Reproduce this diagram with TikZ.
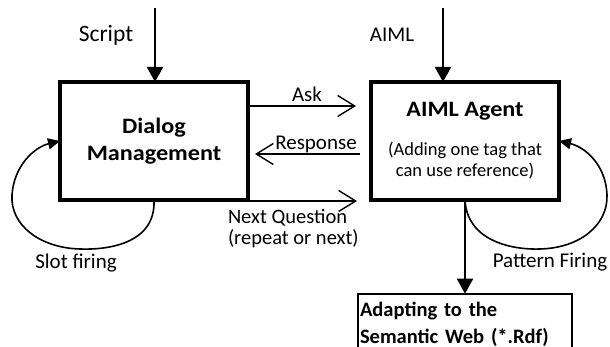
\documentclass[tikz,border=0pt]{standalone}
\usepackage{fontspec}
\setmainfont{Carlito}
\newfontfamily\widefont{Carlito}[FakeStretch=1.1]
\usetikzlibrary{arrows.meta}
\begin{document}
\begin{tikzpicture}[x=1pt,y=-1pt,inner sep=0pt,outer sep=0pt,
bigblock/.style={draw,rectangle,line width=4pt,minimum width=188pt,minimum height=118pt,align=center},
feed/.style={line width=2pt,-{Triangle[length=15pt,width=16pt]}},
msg/.style={line width=1.4pt,-{Straight Barb[length=17pt,width=21pt,line width=1.4pt]}},
loopy/.style={line width=1.6pt,-{Triangle[length=12pt,width=11pt]}},
lbl/.style={font=\fontsize{21}{22}\selectfont}]
\useasboundingbox (0,0) rectangle (610,347);
\clip (0,0) rectangle (610,347);
\node[bigblock,font=\widefont\fontsize{22}{27}\selectfont\bfseries] (dm) at (154,141) {Dialog\\Management};
\node[bigblock,font=\fontsize{18.5}{21.5}\selectfont] (ag) at (465,141) {{\widefont\fontsize{22}{26}\selectfont\bfseries AIML Agent}\\[17pt](Adding one tag that\\can use reference)};
\node[draw,line width=2pt,anchor=north,inner xsep=2pt,text width=210pt,minimum height=61pt,align=left,
  font=\fontsize{20.5}{27}\selectfont\bfseries] (rdf) at (465,293.7) {Adapting to the\\Semantic Web (*.Rdf)};
% inputs
\coordinate (scr) at (155,8);
\coordinate (aiml) at (443,8);
\draw[feed] (scr) -- (scr |- dm.north);
\draw[feed] (aiml) -- (aiml |- ag.north);
\node[lbl,anchor=base,font=\fontsize{23.5}{24}\selectfont] (scrlbl) at (106,42) {Script};
\node[lbl,anchor=base] (aimllbl) at (392,42) {AIML};
% messages
\coordinate (askend) at (356,106);
\coordinate (respstart) at (360,154);
\coordinate (nqend) at (357,201);
\draw[msg] (dm.east |- askend) -- (askend);
\draw[msg,shorten >=7pt] (respstart) -- (dm.east |- respstart);
\draw[msg] (dm.east |- nqend) -- (nqend);
\node[lbl,anchor=base] (asklbl) at (307,102) {Ask};
\node[lbl,anchor=base] (resplbl) at (316,150) {Response};
\node[lbl,anchor=north west,align=left,font=\fontsize{20.5}{21.5}\selectfont] (nqlbl) at (228,209) {Next Question\\(repeat or next)};
% loops
\draw[loopy] (dm.south) .. controls (156,245) and (105,250) .. (80,249) .. controls (40,248) and (10,225) .. (12,195) .. controls (14,165) and (35,147) .. (dm.west);
\draw[loopy] (ag.south) .. controls (467,240) and (510,250) .. (540,249) .. controls (580,248) and (608,225) .. (607,195) .. controls (606,165) and (585,147) .. (ag.east);
\node[lbl,anchor=base] (slotlbl) at (76,269) {Slot firing};
\node[lbl,anchor=base] (patlbl) at (550,268) {Pattern Firing};
% output
\draw[feed] (ag.south) -- (rdf.north);
\end{tikzpicture}
\end{document}
